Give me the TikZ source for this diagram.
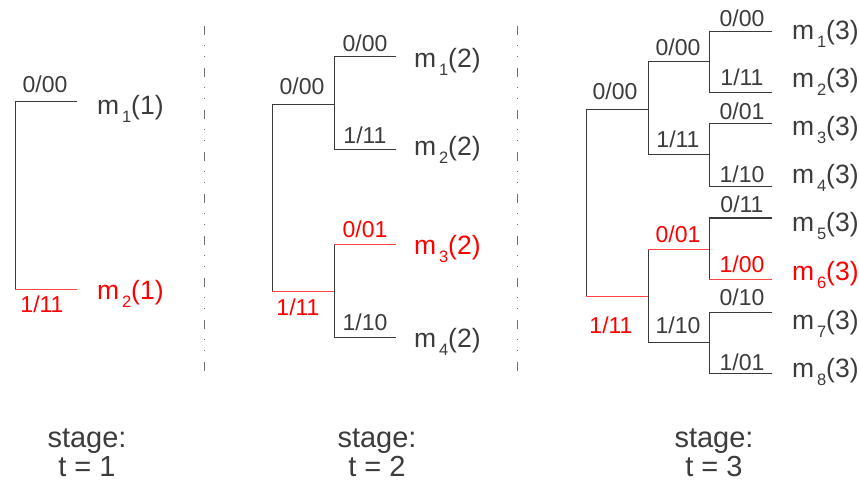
\documentclass[tikz,border=0pt]{standalone}
\usepackage{fontspec}
\setmainfont{Liberation Sans}
\definecolor{ink}{HTML}{3C3C3C}
\definecolor{edge}{HTML}{3A3A3A}
\definecolor{hl}{HTML}{FF0000}
\definecolor{hledge}{HTML}{FF4545}
\definecolor{sepc}{HTML}{707070}
\newcommand\mlab[2]{m\raisebox{-8pt}{\fontsize{16.5}{16.5}\selectfont\,#1}(#2)}
\begin{document}
\begin{tikzpicture}[x=1pt,y=-1pt,
  br/.style={draw=edge,line width=1pt},
  hlbr/.style={draw=hledge,line width=1pt},
  lab/.style={anchor=base,inner sep=0pt,text=ink,font=\fontsize{23}{23}\selectfont},
  hllab/.style={lab,text=hl},
  mnode/.style={anchor=base west,inner sep=0pt,text=ink,font=\fontsize{26.5}{26.5}\selectfont},
  hlm/.style={mnode,text=hl},
  stagelab/.style={anchor=base,inner sep=0pt,text depth=0pt,text=ink,font=\fontsize{29}{29}\selectfont},
  sepline/.style={draw=sepc,line width=1pt,dash pattern=on 9pt off 10pt on 1pt off 10pt on 1pt off 11pt}]
\useasboundingbox (0,0) rectangle (859,481);
\clip (0,0) rectangle (859,481);

% ---------------- stage 1 ----------------
\coordinate (a0) at (15,102); \coordinate (a1) at (15,289);
\coordinate (a0e) at (77,102); \coordinate (a1e) at (77,289);
\draw[br] (a0e) -- (a0) -- (a1);
\draw[hlbr] (a1) -- (a1e);
\node[lab] (a0l) at (45,93) {0/00};
\node[hllab] (a1l) at (42,312) {1/11};
\node[mnode] (m11) at (97,115) {\mlab{1}{1}};
\node[hlm] (m21) at (97,299) {\mlab{2}{1}};

% ---------------- separators ----------------
\coordinate (s1t) at (204,26); \coordinate (s1b) at (204,374);
\coordinate (s2t) at (517,26); \coordinate (s2b) at (517,374);
\draw[sepline] (s1t) -- (s1b);
\draw[sepline] (s2t) -- (s2b);

% ---------------- stage 2 ----------------
\coordinate (b0) at (272,105); \coordinate (b1) at (272,291);
\coordinate (b00) at (334,105); \coordinate (b10) at (334,291);
\coordinate (b0t) at (334,57); \coordinate (b0b) at (334,150);
\coordinate (b1t) at (334,244); \coordinate (b1b) at (334,337);
\coordinate (b0te) at (396,57); \coordinate (b0be) at (396,150);
\coordinate (b1te) at (396,244); \coordinate (b1be) at (396,337);
\draw[br] (b00) -- (b0) -- (b1);
\draw[hlbr] (b1) -- (b10);
\draw[br] (b0te) -- (b0t) -- (b0b) -- (b0be);
\draw[br] (b1t) -- (b1b) -- (b1be);
\draw[hlbr] (b1t) -- (b1te);
\node[lab] (b0l) at (302,95) {0/00};
\node[hllab] (b1l) at (298,315) {1/11};
\node[lab] (b0tl) at (365,52) {0/00};
\node[lab] (b0bl) at (365,144) {1/11};
\node[hllab] (b1tl) at (365,237) {0/01};
\node[lab] (b1bl) at (365,330) {1/10};
\node[mnode] (m12) at (414,68) {\mlab{1}{2}};
\node[mnode] (m22) at (414,156) {\mlab{2}{2}};
\node[hlm] (m32) at (414,254) {\mlab{3}{2}};
\node[mnode] (m42) at (414,347) {\mlab{4}{2}};

% ---------------- stage 3 ----------------
\coordinate (c0) at (586,110); \coordinate (c1) at (586,296);
\coordinate (c0e) at (648,110); \coordinate (c1e) at (648,296);
\draw[br] (c0e) -- (c0) -- (c1);
\draw[hlbr] (c1) -- (c1e);
% level 2
\coordinate (c00) at (648,62); \coordinate (c01) at (648,155);
\coordinate (c10) at (648,249); \coordinate (c11) at (648,342);
\coordinate (c00e) at (709,62); \coordinate (c01e) at (709,155);
\coordinate (c10e) at (709,249); \coordinate (c11e) at (709,342);
\draw[br] (c00e) -- (c00) -- (c01) -- (c01e);
\draw[br] (c10) -- (c11) -- (c11e);
\draw[hlbr] (c10) -- (c10e);
% level 3
\coordinate (d1) at (709,32);  \coordinate (d2) at (709,93);
\coordinate (d3) at (709,124); \coordinate (d4) at (709,187);
\coordinate (d5) at (709,218); \coordinate (d6) at (709,279);
\coordinate (d7) at (709,312); \coordinate (d8) at (709,373);
\coordinate (e1) at (772,32);  \coordinate (e2) at (772,93);
\coordinate (e3) at (772,124); \coordinate (e4) at (772,187);
\coordinate (e5) at (772,218); \coordinate (e6) at (772,279);
\coordinate (e7) at (772,312); \coordinate (e8) at (772,373);
\draw[br] (e1) -- (d1) -- (d2) -- (e2);
\draw[br] (e3) -- (d3) -- (d4) -- (e4);
\draw[br] (e5) -- (d5) -- (d6);
\draw[hlbr] (d6) -- (e6);
\draw[br] (e7) -- (d7) -- (d8) -- (e8);
% labels
\node[lab] (c0l) at (615,100) {0/00};
\node[hllab] (c1l) at (611,333) {1/11};
\node[lab] (c00l) at (678,56) {0/00};
\node[lab] (c01l) at (678,148) {1/11};
\node[hllab] (c10l) at (678,242) {0/01};
\node[lab] (c11l) at (678,333) {1/10};
\node[lab] (e1l) at (742,27) {0/00};
\node[lab] (e2l) at (742,86) {1/11};
\node[lab] (e3l) at (742,120) {0/01};
\node[lab] (e4l) at (742,183) {1/10};
\node[lab] (e5l) at (742,213) {0/11};
\node[hllab] (e6l) at (742,272) {1/00};
\node[lab] (e7l) at (742,305) {0/10};
\node[lab] (e8l) at (742,370) {1/01};
\node[mnode] (m13) at (792,40) {\mlab{1}{3}};
\node[mnode] (m23) at (792,88) {\mlab{2}{3}};
\node[mnode] (m33) at (792,136) {\mlab{3}{3}};
\node[mnode] (m43) at (792,184) {\mlab{4}{3}};
\node[mnode] (m53) at (792,232) {\mlab{5}{3}};
\node[hlm] (m63) at (792,280) {\mlab{6}{3}};
\node[mnode] (m73) at (792,329) {\mlab{7}{3}};
\node[mnode] (m83) at (792,377) {\mlab{8}{3}};

% ---------------- stage captions ----------------
\node[stagelab] (st1a) at (87,447) {stage:};
\node[stagelab] (st1b) at (87,476) {t = 1};
\node[stagelab] (st2a) at (377,447) {stage:};
\node[stagelab] (st2b) at (377,476) {t = 2};
\node[stagelab] (st3a) at (714,447) {stage:};
\node[stagelab] (st3b) at (714,476) {t = 3};
\end{tikzpicture}
\end{document}
